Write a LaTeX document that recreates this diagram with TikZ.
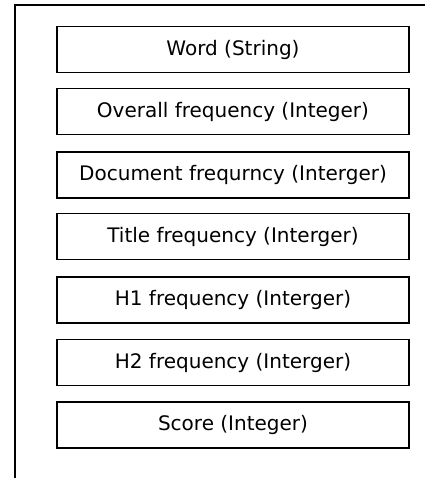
\documentclass[tikz,border=0pt]{standalone}
\usepackage{fontspec}
\setmainfont{DejaVu Sans}
\tikzset{field/.style={draw,line width=1.2pt,minimum width=352pt,minimum height=46pt,inner sep=0pt,font=\fontsize{20pt}{24pt}\selectfont}}
\begin{document}
\begin{tikzpicture}[x=1pt,y=-1pt]
            \useasboundingbox (0,0) rectangle (425,478);
            \draw[line width=1.2pt] (15,478) -- (15,5) -- (425,5);
            \node[field] (word) at (233,49.5) {Word (String)};
            \node[field] (overall) at (233,111.5) {Overall frequency (Integer)};
            \node[field] (document) at (233,175) {Document frequrncy (Interger)};
            \node[field] (title) at (233,236.5) {Title frequency (Interger)};
            \node[field] (hone) at (233,300) {H1 frequency (Interger)};
            \node[field] (htwo) at (233,362.5) {H2 frequency (Interger)};
            \node[field] (score) at (233,425) {Score (Integer)};
        \end{tikzpicture}
\end{document}
